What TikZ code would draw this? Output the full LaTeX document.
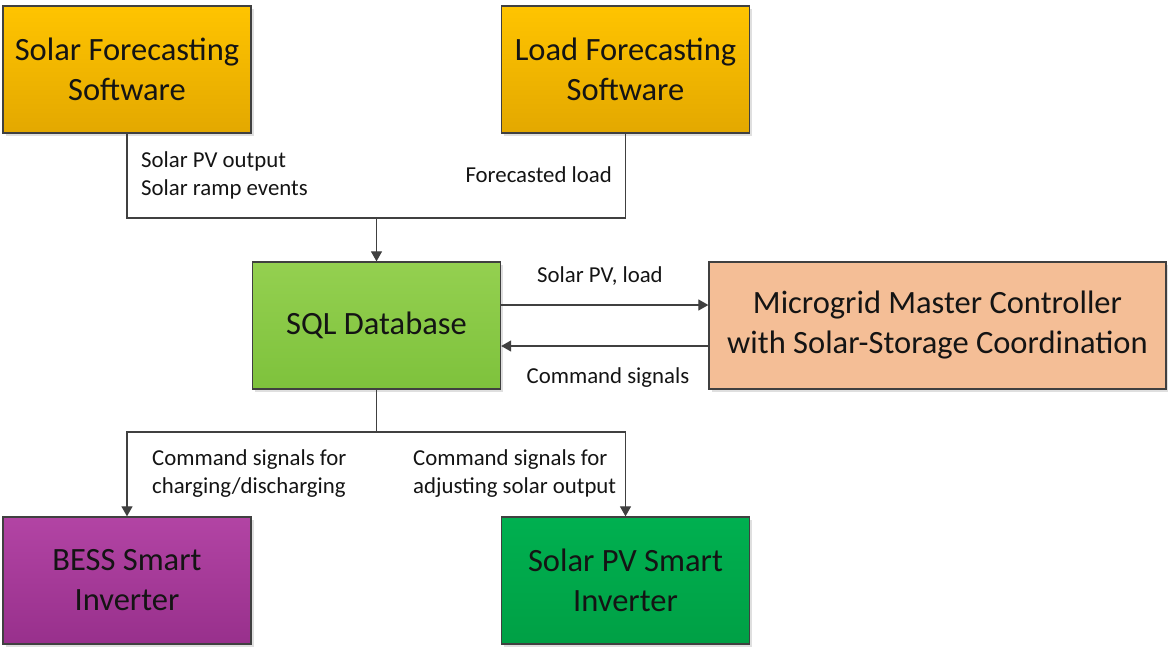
\documentclass[tikz,border=0pt]{standalone}
\usepackage{fontspec}
\setmainfont{Carlito}
\usetikzlibrary{arrows.meta,shadows}
\definecolor{edge}{HTML}{404040}
\definecolor{ink}{HTML}{141414}
\definecolor{goldtop}{HTML}{FFC400}
\definecolor{goldbot}{HTML}{E3A800}
\definecolor{limetop}{HTML}{94D050}
\definecolor{limebot}{HTML}{7EC23C}
\definecolor{peach}{HTML}{F4BE96}
\definecolor{plumtop}{HTML}{B244A4}
\definecolor{plumbot}{HTML}{98308C}
\definecolor{greentop}{HTML}{00B050}
\definecolor{greenbot}{HTML}{00A045}
\begin{document}
\begin{tikzpicture}[x=1pt,y=-1pt,
  box/.style={draw=edge,line width=1.3pt,minimum width=248pt,minimum height=127pt,
    align=center,text=ink,font=\fontsize{32.5}{40}\selectfont,
    drop shadow={shadow xshift=2.5pt,shadow yshift=-2.5pt,opacity=0.25}},
  wire/.style={draw=edge,line width=1.2pt},
  arr/.style={wire,-{Triangle[length=10pt,width=11pt]}},
  lbl/.style={inner sep=0pt,text=ink,font=\fontsize{22.8}{28}\selectfont,align=left}]
\useasboundingbox (0,0) rectangle (1168,649);

% Forecasting sources
\node[box,top color=goldtop,bottom color=goldbot] (solar) at (127,69.5) {Solar Forecasting\\Software};
\node[box,top color=goldtop,bottom color=goldbot] (load) at (625.5,69.5) {Load Forecasting\\Software};

% Central database and controller
\node[box,top color=limetop,bottom color=limebot] (sql) at (376.5,325.5) {SQL Database};
\node[box,minimum width=457pt,fill=peach] (mc) at (937.5,325.5) {Microgrid Master Controller\\with Solar-Storage Coordination};

% Inverters
\node[box,top color=plumtop,bottom color=plumbot] (bess) at (127,580.5) {BESS Smart\\Inverter};
\node[box,top color=greentop,bottom color=greenbot] (pv) at (625.5,580.5) {Solar PV Smart\\Inverter};

% Forecasts merge into the database
\coordinate (merge) at (376.5,218);
\draw[wire] (solar.south) |- (merge) -| (load.south);
\draw[arr] (merge) -- (sql.north);

% Database <-> controller
\draw[arr] ([yshift=20.5pt]sql.east) -- ([yshift=20.5pt]sql.east -| mc.west);
\draw[arr] ([yshift=-20.5pt]sql.east -| mc.west) -- ([yshift=-20.5pt]sql.east);

% Commands out to the inverters
\coordinate (split) at (376.5,432);
\draw[wire] (sql.south) -- (split);
\draw[arr] (split) -| (bess.north);
\draw[arr] (split) -| (pv.north);

% Connector labels
\node[lbl,anchor=west] (l1) at (141,175) {Solar PV output\\Solar ramp events};
\node[lbl,anchor=east] (l2) at (612,175) {Forecasted load};
\node[lbl] (l3) at (600,276) {Solar PV, load};
\node[lbl] (l4) at (608,378) {Command signals};
\node[lbl,anchor=west] (l5) at (152,474) {Command signals for\\charging/discharging};
\node[lbl,anchor=west] (l6) at (413,474) {Command signals for\\adjusting solar output};
\end{tikzpicture}
\end{document}
